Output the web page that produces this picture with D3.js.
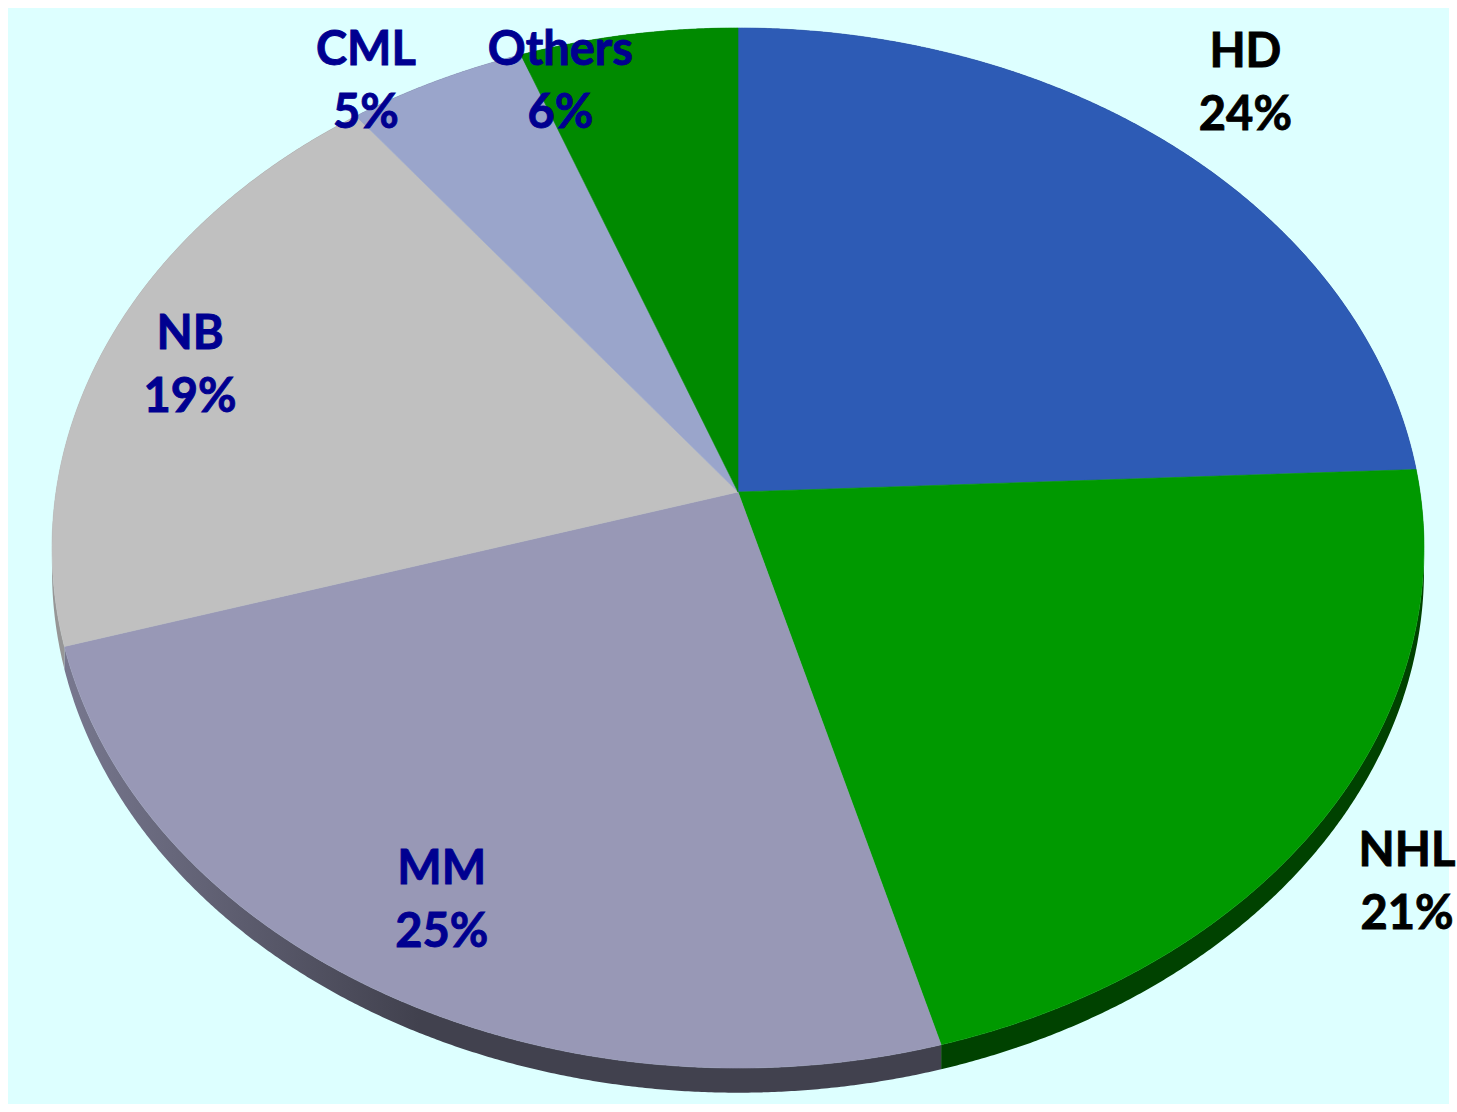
<!DOCTYPE html>
<html><head><meta charset="utf-8">
<script src="https://cdn.jsdelivr.net/npm/d3@7"></script>
<style>html,body{margin:0;padding:0;background:#fff;}</style>
</head><body>
<svg id="chart" width="1457" height="1112"></svg>
<script>
// ---- data ----
const categories = ["HD", "NHL", "MM", "NB", "CML", "Others"];
const values = [24.3, 21.4, 24.6, 19.3, 4.7, 5.7];
const pctLabels = ["24%", "21%", "25%", "19%", "5%", "6%"];

// ---- style / layout ----
const colors = ["#2D5BB5", "#009900", "#9898B6", "#C0C0C0", "#9AA5CB", "#008A00"];
const labelColors = ["#000000", "#000000", "#000090", "#000090", "#000090", "#000090"];
const labelRadius = [1.195, 1.145, 0.831, 0.865, 1.063, 0.925];
const labelAngleShift = [-0.8, 1.6, 0, -0.5, -5.2, -7.7];

const cx = 738, cy = 492, A = 682, B = 514, persp = 0.1077, depth = 22;

const svg = d3.select("#chart");
const defs = svg.append("defs");
svg.append("rect").attr("x", 8).attr("y", 8).attr("width", 1441).attr("height", 1096).attr("fill", "#DDFFFF");

function proj(theta, r, z) {
  const D = -r * Math.cos(theta), X = r * Math.sin(theta);
  const s = 1 / (1 - persp * D);
  return [cx + A * X * s, cy + B * D * s + z * s];
}

const arcs = d3.pie().sort(null).value(d => d)(values);
const line = d3.line();
const step = Math.PI / 720;
function samples(a0, a1) {
  const n = Math.max(2, Math.ceil((a1 - a0) / step));
  return d3.range(n + 1).map(i => a0 + (a1 - a0) * i / n);
}

// side shading gradient (lighter at the far left, darker toward the front)
const gx0 = proj(252 * Math.PI / 180, 1, 0)[0];
const gx1 = proj(205 * Math.PI / 180, 1, 0)[0];

const sideG = svg.append("g");
arcs.forEach((a, i) => {
  const base = d3.rgb(colors[i]);
  const dk = f => d3.rgb(base.r * f, base.g * f, base.b * f).toString();
  const gid = "side" + i;
  const g = defs.append("linearGradient").attr("id", gid).attr("gradientUnits", "userSpaceOnUse")
    .attr("x1", gx0).attr("y1", 0).attr("x2", gx1).attr("y2", 0);
  g.append("stop").attr("offset", 0).attr("stop-color", dk(0.78));
  g.append("stop").attr("offset", 1).attr("stop-color", dk(0.43));
  const ts = samples(a.startAngle, a.endAngle);
  const pts = ts.map(t => proj(t, 1, 0)).concat(ts.slice().reverse().map(t => proj(t, 1, depth)));
  sideG.append("path").attr("d", line(pts) + "Z").attr("fill", `url(#${gid})`);
});

// top faces
const topG = svg.append("g");
arcs.forEach((a, i) => {
  const pts = [proj(0, 0, 0)].concat(samples(a.startAngle, a.endAngle).map(t => proj(t, 1, 0)));
  topG.append("path").attr("d", line(pts) + "Z").attr("fill", colors[i]).attr("stroke", colors[i]).attr("stroke-width", 0.6);
});

// labels
const lblG = svg.append("g").attr("font-family", "Lato, 'Open Sans', sans-serif").attr("font-weight", "bold")
  .attr("font-size", 47).attr("text-anchor", "middle");
arcs.forEach((a, i) => {
  const mid = (a.startAngle + a.endAngle) / 2 + labelAngleShift[i] * Math.PI / 180;
  const [x, y] = proj(mid, labelRadius[i], 0);
  const t = lblG.append("text").attr("x", x).attr("y", y).attr("fill", labelColors[i])
    .attr("stroke", labelColors[i]).attr("stroke-width", 0.9);
  t.append("tspan").attr("x", x).attr("y", y - 14).text(categories[i]);
  t.append("tspan").attr("x", x).attr("y", y + 49).text(pctLabels[i]);
});
</script>
</body></html>
